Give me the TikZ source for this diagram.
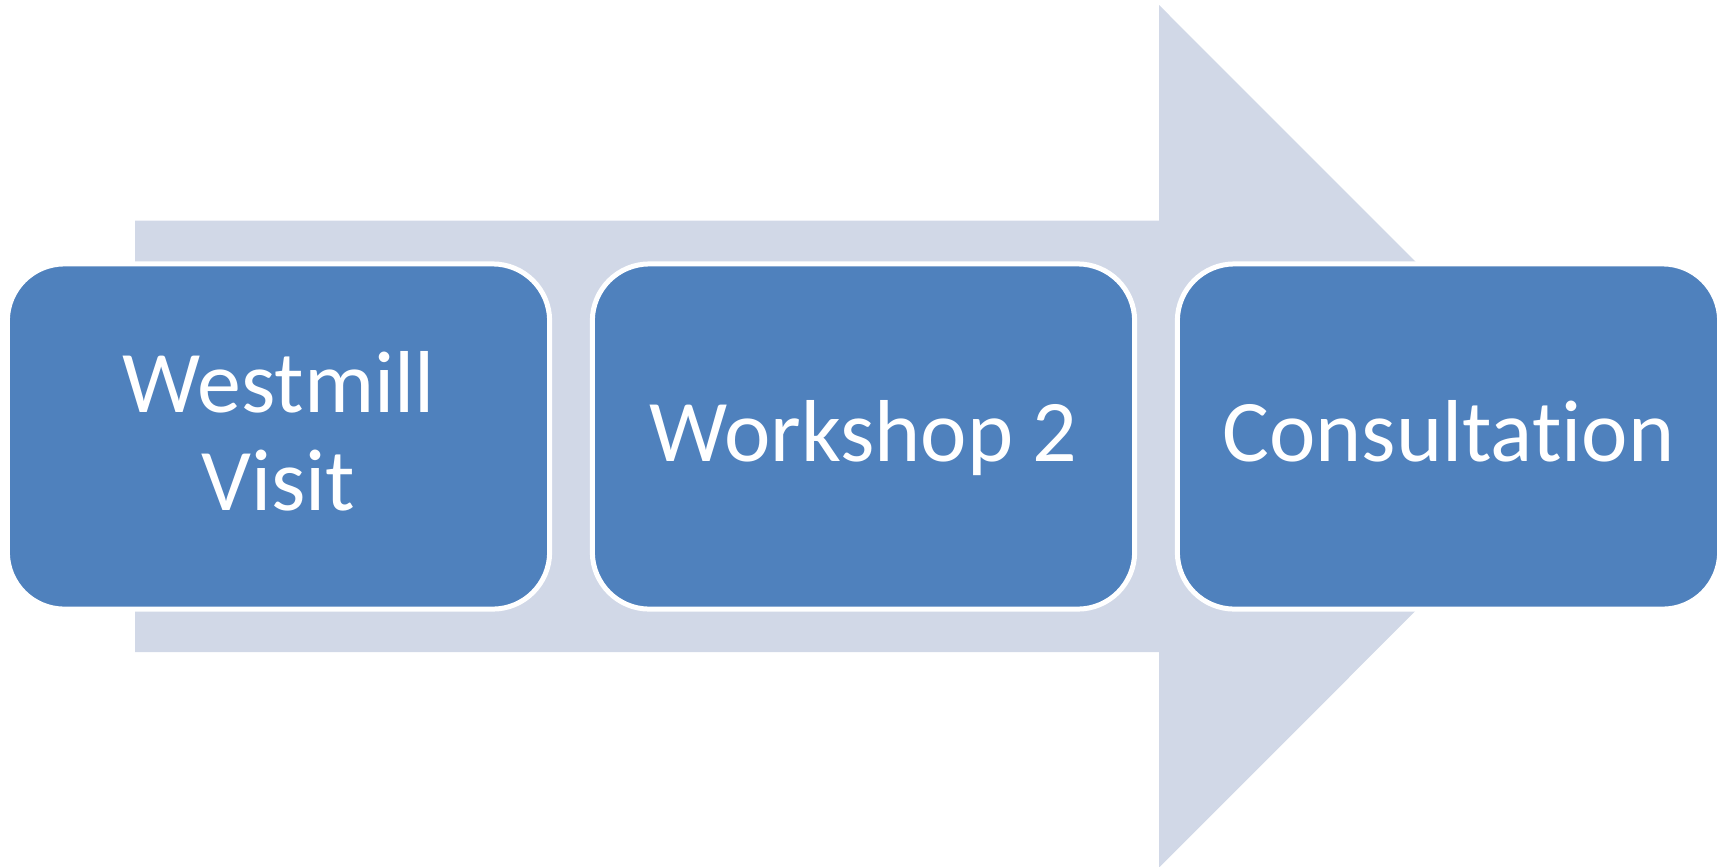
\documentclass[tikz,border=0pt]{standalone}
\usepackage{fontspec}
\setmainfont[Ligatures=NoCommon]{Carlito}
\usepackage{xcolor}
\usepackage{tikz}
\usetikzlibrary{calc}
\definecolor{stageblue}{HTML}{4F81BD}
\definecolor{flowgray}{HTML}{D1D8E7}
\tikzstyle{stage}=[rectangle,rounded corners=0.57cm,draw=white,line width=0.05cm,fill=stageblue,text=white,minimum width=5.42cm,minimum height=3.45cm,inner sep=0pt,outer sep=0pt,align=center,font=\fontsize{25}{27.6}\selectfont]
\tikzstyle{flow}=[fill=flowgray]

\begin{document}
\begin{tikzpicture}[x=0.01cm,y=-0.01cm]

 \useasboundingbox (0,0) rectangle (1727,866);

 %big arrow behind the stages
 \def\ytop{220.7};
 \def\ybot{652};
 \def\xbase{1159};
 \coordinate (tail) at (135,\ytop);
 \coordinate (tip) at (1590,436.3);
 \fill[flow] (tail) -- (\xbase,\ytop) -- (\xbase,5) -- (tip) -- (\xbase,867.6)
   -- (\xbase,\ybot) -- (135,\ybot) -- cycle;

 %stages
 \def\dy{436.5};

  \foreach \x/\name/\label/\hgt/\dpt in {278.5/westmill/{Westmill\\Visit}/1.68cm/0.21cm, 863.5/workshop/{Workshop 2}/0.7cm/0.21cm, 1448.5/consult/{Consultation}/0.7cm/0.21cm}
          \node[stage,text height=\hgt,text depth=\dpt] (\name) at (\x, \dy) {\label};

\end{tikzpicture}
\end{document}
